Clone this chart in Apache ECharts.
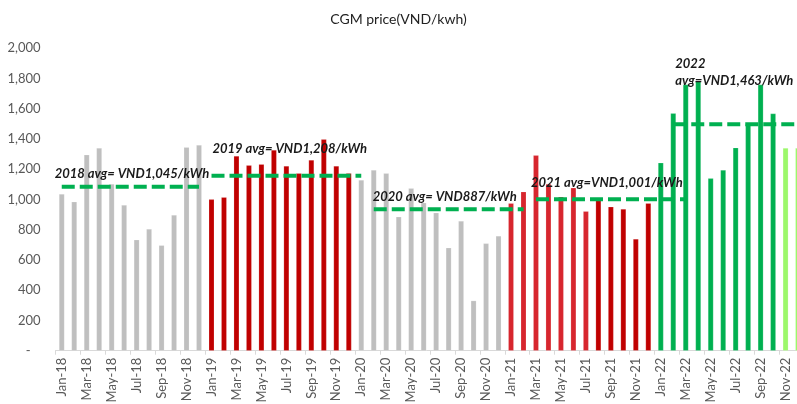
<!DOCTYPE html>
<html>
<head>
<meta charset="utf-8">
<script src="https://cdn.jsdelivr.net/npm/echarts@6/dist/echarts.min.js"></script>
<style>html,body{margin:0;padding:0;background:#fff}#c{width:797px;height:404px}</style>
</head>
<body>
<div id="c"></div>
<script>
// ---- data ----
const months = ['Jan','Feb','Mar','Apr','May','Jun','Jul','Aug','Sep','Oct','Nov','Dec'];
const years = ['18','19','20','21','22'];
const v2018 = [1036, 985, 1296, 1340, 1102, 963, 734, 805, 697, 897, 1345, 1360];
const v2019 = [1001, 1015, 1288, 1226, 1233, 1327, 1222, 1173, 1261, 1398, 1222, 1173];
const v2020 = [1129, 1195, 1173, 886, 1074, 979, 913, 681, 858, 331, 710, 759];
const v2021 = [975, 1052, 1292, 1102, 1019, 1078, 922, 1001, 952, 937, 739, 975];
const v2022 = [1243, 1570, 1760, 1785, 1140, 1195, 1343, 1500, 1760, 1568, 1340, 1340];
const avgLabels = ['2018 avg= VND1,045/kWh','2019 avg= VND1,208/kWh','2020 avg= VND887/kWh','2021 avg=VND1,001/kWh','2022\navg=VND1,463/kWh'];
const avgValues = [1085, 1157, 935, 1001, 1497];
const avgStart = ['Jan-18','Jan-19','Feb-20','Mar-21','Feb-22'];
const avgEnd   = ['Dec-18','Jan-20','Feb-21','Mar-22','Dec-22'];
const yTicks = [0,200,400,600,800,1000,1200,1400,1600,1800,2000];

const categories = [];
years.forEach(y => months.forEach(m => categories.push(m + '-' + y)));
const values = [].concat(v2018, v2019, v2020, v2021, v2022);

// ---- styles ----
function barColor(cat) {
  const [m, y] = cat.split('-');
  const mi = months.indexOf(m);
  if (y === '18' || y === '20') return '#BFBFBF';
  if (y === '19') return '#C00000';
  if (y === '21') return mi <= 6 ? '#D7262E' : '#C00000';
  return mi >= 10 ? '#9CF86B' : '#00B050';
}
const labelOffsets = [[-7,-13],[1,-27],[-1,-13],[-5,-17],[2,-52]];

const barData = values.map((v, i) => ({ value: v, itemStyle: { color: barColor(categories[i]) } }));

const avgSeries = avgValues.map((val, k) => {
  const s = categories.indexOf(avgStart[k]);
  const e = categories.indexOf(avgEnd[k]);
  const data = categories.map((c, i) => (i >= s && i <= e) ? val : '-');
  return {
    type: 'line',
    data: data,
    symbol: 'none',
    connectNulls: false,
    silent: true,
    z: 5,
    lineStyle: { color: '#00B050', width: 4, type: [13, 5], cap: 'butt' },
    markPoint: {
      symbol: 'circle', symbolSize: 0, silent: true,
      data: [{ coord: [avgStart[k], val] }],
      label: {
        show: true, position: 'right', distance: 0,
        offset: labelOffsets[k],
        formatter: avgLabels[k],
        fontFamily: 'Lato', fontStyle: 'italic', fontWeight: 'bold',
        fontSize: 13, color: '#1a1a1a', lineHeight: 17, align: 'left'
      }
    }
  };
});

const chart = echarts.init(document.getElementById('c'), null, { renderer: 'canvas' });
chart.setOption({
  animation: false,
  backgroundColor: '#ffffff',
  title: {
    text: 'CGM price(VND/kwh)', left: 'center', top: 7,
    textStyle: { fontFamily: 'Lato', fontSize: 14, fontWeight: 'normal', color: '#222' }
  },
  grid: { left: 55.5, width: 748.8, top: 48.3, bottom: 53.3, containLabel: false, outerBoundsMode: 'none' },
  xAxis: {
    type: 'category', data: categories, boundaryGap: true,
    axisLine: { show: true, lineStyle: { color: '#D9D9D9', width: 1 } },
    axisTick: { show: true, interval: 1, length: 4, lineStyle: { color: '#D9D9D9' } },
    axisLabel: { interval: 1, rotate: 90, margin: 7, fontFamily: 'Lato', fontSize: 13, color: '#595959' }
  },
  yAxis: {
    type: 'value', min: yTicks[0], max: yTicks[yTicks.length - 1], interval: yTicks[1] - yTicks[0],
    splitLine: { show: false }, axisLine: { show: false }, axisTick: { show: false },
    axisLabel: {
      margin: 15, fontFamily: 'Lato', fontSize: 13, color: '#595959',
      formatter: v => v === 0 ? '-   ' : v.toLocaleString('en-US')
    }
  },
  series: [{
    type: 'bar', data: barData, barWidth: '44%', z: 2,
    itemStyle: { borderColor: 'rgba(255,255,255,0.35)', borderWidth: 0.5 }
  }].concat(avgSeries)
});
</script>
</body>
</html>
